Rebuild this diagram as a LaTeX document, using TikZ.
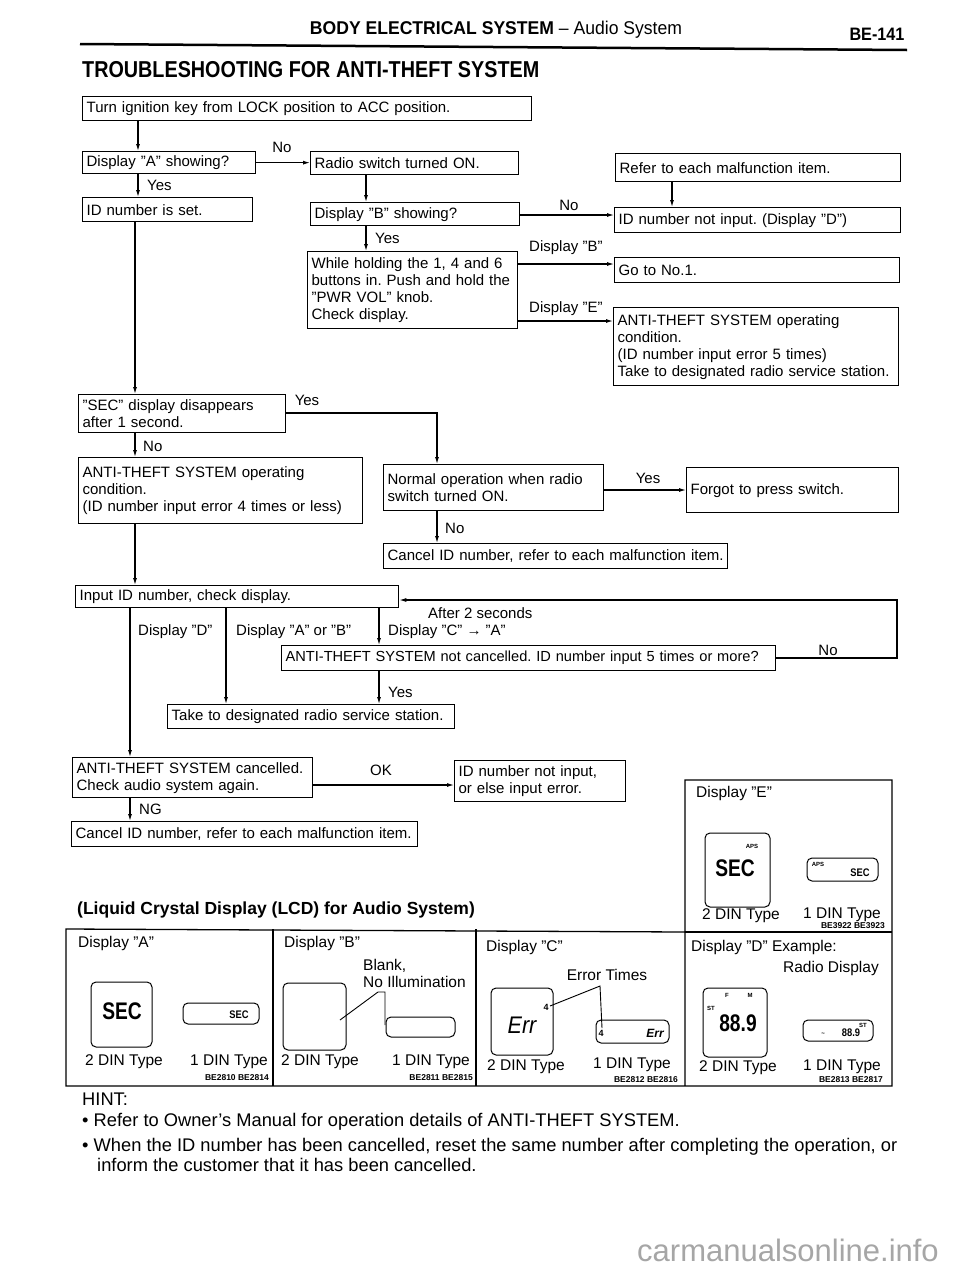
\documentclass[tikz,border=0pt]{standalone}
\usepackage{fontspec}
\setmainfont{Liberation Sans}
\setsansfont{Liberation Sans}
\usetikzlibrary{arrows.meta, positioning}
\frenchspacing

\newcommand{\flowfont}{\fontsize{15}{17}\selectfont}
\newcommand{\lcdfont}{\fontsize{15.5}{17}\selectfont}
\newcommand{\codefont}{\fontsize{8.5}{9}\selectfont\bfseries}
\newcommand{\hintfont}{\fontsize{18.3}{20}\selectfont}

\tikzset{
  flowbox/.style={draw, line width=1.3pt, anchor=north west, inner xsep=4pt, inner ysep=1pt, align=left, font=\flowfont},
  flowarrow/.style={line width=1.1pt, -{Latex[length=7pt, width=4pt]}},
  flowlabel/.style={font=\flowfont, inner sep=1pt},
  cellline/.style={line width=1.3pt},
  lcdframe/.style={line width=1pt, rounded corners=5pt},
  leader/.style={line width=0.9pt},
  lcdtext/.style={font=\lcdfont, inner sep=1pt},
  codetext/.style={font=\codefont, inner sep=0pt, anchor=east},
  segbig/.style={font=\fontsize{24}{24}\selectfont\bfseries, inner sep=0pt, xscale=0.8},
  segsmall/.style={font=\fontsize{11}{11}\selectfont\bfseries, inner sep=0pt, xscale=0.85},
  segerr/.style={font=\fontsize{24}{24}\selectfont\itshape, inner sep=0pt, xscale=0.9},
  segerrsmall/.style={font=\fontsize{12}{12}\selectfont\itshape\bfseries, inner sep=0pt},
  segnum/.style={font=\fontsize{9}{9}\selectfont\bfseries, inner sep=0pt},
  segtiny/.style={font=\fontsize{6}{6}\selectfont\bfseries, inner sep=0pt},
  hinttext/.style={font=\hintfont, inner sep=0pt, anchor=west}
}

\begin{document}
\begin{tikzpicture}[x=1pt, y=-1pt]
\fill[white] (0,0) rectangle (960,1280);
\useasboundingbox (0,0) rectangle (960,1280);

% page head
\node[font=\fontsize{18.5}{18.5}\selectfont, xscale=0.95, inner sep=0pt] (head) at (496,30) {\textbf{BODY ELECTRICAL SYSTEM} -- Audio System};
\node[font=\fontsize{18}{18}\selectfont\bfseries, xscale=0.9, inner sep=0pt] (pageno) at (877,34) {BE-141};
\draw[line width=2.5pt] (80,44) -- (907,50);
\node[font=\fontsize{23}{23}\selectfont\bfseries, xscale=0.86, anchor=west, inner sep=0pt] (title) at (82,70) {TROUBLESHOOTING FOR ANTI-THEFT SYSTEM};

% flow boxes
\node[flowbox, text width=441pt, minimum height=24pt] (turn) at (82,96) {Turn ignition key from LOCK position to ACC position.};
\node[flowbox, text width=165pt, minimum height=22pt] (dispA) at (82,151) {Display ”A” showing?};
\node[flowbox, text width=200pt, minimum height=23pt] (radio) at (310,151) {Radio switch turned ON.};
\node[flowbox, text width=162pt, minimum height=24pt] (idset) at (82,197) {ID number is set.};
\node[flowbox, text width=201pt, minimum height=23pt] (dispB) at (310,202) {Display ”B” showing?};
\node[flowbox, text width=202pt, minimum height=77pt] (holding) at (307,251) {While holding the 1, 4 and 6\\buttons in. Push and hold the\\”PWR VOL” knob.\\Check display.};
\node[flowbox, text width=277pt, minimum height=28pt] (refer) at (615,153) {Refer to each malfunction item.};
\node[flowbox, text width=278pt, minimum height=25pt] (idnot) at (614,207) {ID number not input. (Display ”D”)};
\node[flowbox, text width=277pt, minimum height=25pt] (gono) at (614,257) {Go to No.1.};
\node[flowbox, text width=277pt, minimum height=78pt] (antifive) at (613,307) {ANTI-THEFT SYSTEM operating\\condition.\\(ID number input error 5 times)\\Take to designated radio service station.};
\node[flowbox, text width=199pt, minimum height=38pt] (secgone) at (78,394) {”SEC” display disappears\\after 1 second.};
\node[flowbox, text width=276pt, minimum height=66pt] (antifour) at (78,457) {ANTI-THEFT SYSTEM operating\\condition.\\(ID number input error 4 times or less)};
\node[flowbox, text width=212pt, minimum height=46pt] (normal) at (383,464) {Normal operation when radio\\switch turned ON.};
\node[flowbox, text width=204pt, minimum height=45pt] (forgot) at (686,467) {Forgot to press switch.};
\node[flowbox, text width=336pt, minimum height=25pt] (cancelA) at (383,543) {Cancel ID number, refer to each malfunction item.};
\node[flowbox, text width=315pt, minimum height=22pt] (input) at (75,585) {Input ID number, check display.};
\node[flowbox, text width=486pt, minimum height=25pt, font=\fontsize{14.6}{17}\selectfont] (notcanc) at (281,645) {ANTI-THEFT SYSTEM not cancelled. ID number input 5 times or more?};
\node[flowbox, text width=279pt, minimum height=24pt] (takeshop) at (167,704) {Take to designated radio service station.};
\node[flowbox, text width=232pt, minimum height=40pt] (cancelled) at (72,757) {ANTI-THEFT SYSTEM cancelled.\\Check audio system again.};
\node[flowbox, text width=163pt, minimum height=41pt] (idnotB) at (454,760) {ID number not input,\\or else input error.};
\node[flowbox, text width=338pt, minimum height=25pt] (cancelB) at (71,821) {Cancel ID number, refer to each malfunction item.};

% lanes and rows
\coordinate (laneTop) at (138,0);
\coordinate (laneMid) at (135,0);
\coordinate (laneLow) at (130,0);
\coordinate (laneRadio) at (366,0);
\coordinate (laneRefer) at (672,0);
\coordinate (laneNormal) at (437,0);
\coordinate (laneAB) at (226,0);
\coordinate (laneC) at (379,0);
\coordinate (laneBack) at (897,0);
\coordinate (rowNoB) at (0,215);
\coordinate (rowDispB) at (0,264);
\coordinate (rowDispE) at (0,321);
\coordinate (rowSec) at (0,413);
\coordinate (rowForgot) at (0,490);
\coordinate (rowBack) at (0,600);
\coordinate (rowLoop) at (0,658);
\coordinate (rowOK) at (0,785);

% connectors
\draw[flowarrow] (turn.south -| laneTop) -- (dispA.north -| laneTop);
\draw[flowarrow] (dispA.south -| laneTop) -- (idset.north -| laneTop);
\draw[flowarrow] (idset.south -| laneMid) -- (secgone.north -| laneMid);
\draw[flowarrow] (secgone.south -| laneMid) -- (antifour.north -| laneMid);
\draw[flowarrow] (antifour.south -| laneMid) -- (input.north -| laneMid);
\draw[flowarrow] (input.south -| laneLow) -- (cancelled.north -| laneLow);
\draw[flowarrow] (cancelled.south -| laneLow) -- (cancelB.north -| laneLow);
\draw[flowarrow] (dispA.east) -- (dispA.east -| radio.west);
\draw[flowarrow] (radio.south -| laneRadio) -- (dispB.north -| laneRadio);
\draw[flowarrow] (dispB.south -| laneRadio) -- (holding.north -| laneRadio);
\draw[flowarrow] (dispB.east |- rowNoB) -- (idnot.west |- rowNoB);
\draw[flowarrow] (refer.south -| laneRefer) -- (idnot.north -| laneRefer);
\draw[flowarrow] (holding.east |- rowDispB) -- (gono.west |- rowDispB);
\draw[flowarrow] (holding.east |- rowDispE) -- (antifive.west |- rowDispE);
\draw[flowarrow] (secgone.east |- rowSec) -| (normal.north -| laneNormal);
\draw[flowarrow] (normal.east |- rowForgot) -- (forgot.west |- rowForgot);
\draw[flowarrow] (normal.south -| laneNormal) -- (cancelA.north -| laneNormal);
\draw[flowarrow] (input.south -| laneAB) -- (takeshop.north -| laneAB);
\draw[flowarrow] (input.south -| laneC) -- (notcanc.north -| laneC);
\draw[flowarrow] (notcanc.south -| laneC) -- (takeshop.north -| laneC);
\draw[flowarrow] (notcanc.east |- rowLoop) -| (laneBack |- rowBack) -- (input.east |- rowBack);
\draw[flowarrow] (cancelled.east |- rowOK) -- (idnotB.west |- rowOK);

% branch labels
\node[flowlabel] (noA) at (282,147) {No};
\node[flowlabel, anchor=west] (yesA) at (146,185) {Yes};
\node[flowlabel, anchor=west] (yesB) at (374,238) {Yes};
\node[flowlabel] (noB) at (569,205) {No};
\node[flowlabel, anchor=west] (showB) at (528,248) {Display ”B”};
\node[flowlabel, anchor=west] (showE) at (528,309) {Display ”E”};
\node[flowlabel] (yesSec) at (307,400) {Yes};
\node[flowlabel, anchor=west] (noSec) at (142,446) {No};
\node[flowlabel] (yesNormal) at (648,478) {Yes};
\node[flowlabel, anchor=west] (noNormal) at (444,528) {No};
\node[flowlabel, anchor=west] (after) at (427,613) {After 2 seconds};
\node[flowlabel, anchor=west] (showD) at (137,632) {Display ”D”};
\node[flowlabel, anchor=west] (showAB) at (235,632) {Display ”A” or ”B”};
\node[flowlabel, anchor=west] (showC) at (387,632) {Display ”C” → ”A”};
\node[flowlabel] (noLoop) at (828,650) {No};
\node[flowlabel, anchor=west] (yesLoop) at (387,692) {Yes};
\node[flowlabel] (okCheck) at (381,770) {OK};
\node[flowlabel, anchor=west] (ngCheck) at (138,809) {NG};

% LCD table
\node[font=\fontsize{17.5}{17.5}\selectfont\bfseries, anchor=west, inner sep=0pt] (lcdtitle) at (77,910) {(Liquid Crystal Display (LCD) for Audio System)};
\draw[cellline] (685,932) -- (66,929) -- (66,1086) -- (892,1086) -- (892,780) -- (685,780) -- (685,1086);
\draw[cellline] (685,932) -- (892,932);
\draw[cellline] (273,929) -- (273,1086) (476,929) -- (476,1086);

% display A
\node[lcdtext, anchor=west] (lcdA) at (77,943) {Display ”A”};
\draw[lcdframe] (91,982) rectangle (152,1047);
\node[segbig] (secA) at (122,1011) {SEC};
\draw[lcdframe] (183,1003) rectangle (259,1024);
\node[segsmall] (secAs) at (239,1015) {SEC};
\node[lcdtext] (twoA) at (124,1062) {2 DIN Type};
\node[lcdtext] (oneA) at (229,1062) {1 DIN Type};
\node[codetext] (codeA) at (269,1078) {BE2810 BE2814};

% display B
\node[lcdtext, anchor=west] (lcdB) at (283,943) {Display ”B”};
\draw[lcdframe] (283,983) rectangle (346,1050);
\draw[lcdframe] (386,1017) rectangle (455,1037);
\node[lcdtext, anchor=west] (blankB) at (362,966) {Blank,};
\node[lcdtext, anchor=west] (illumB) at (362,982) {No Illumination};
\draw[leader] (340,1020) -- (378,992) -- (385,992) -- (385,1025);
\node[lcdtext] (twoB) at (320,1062) {2 DIN Type};
\node[lcdtext] (oneB) at (431,1062) {1 DIN Type};
\node[codetext] (codeB) at (473,1078) {BE2811 BE2815};

% display C
\node[lcdtext, anchor=west] (lcdC) at (485,947) {Display ”C”};
\node[lcdtext] (errTimes) at (607,975) {Error Times};
\draw[lcdframe] (491,988) rectangle (553,1055);
\node[segerr] (errC) at (522,1025) {Err};
\node[segnum] (fourC) at (546,1007) {4};
\draw[lcdframe] (596,1020) rectangle (669,1043);
\node[segnum] (fourCs) at (601,1033) {4};
\node[segerrsmall] (errCs) at (655,1033) {Err};
\draw[leader] (550,1006) -- (600,986) -- (602,1028);
\node[lcdtext] (twoC) at (526,1067) {2 DIN Type};
\node[lcdtext] (oneC) at (632,1065) {1 DIN Type};
\node[codetext] (codeC) at (678,1080) {BE2812 BE2816};

% display D
\node[lcdtext, anchor=west] (lcdD) at (690,947) {Display ”D” Example:};
\node[lcdtext, anchor=east] (radioD) at (880,968) {Radio Display};
\draw[lcdframe] (703,988) rectangle (767,1057);
\node[segtiny] (fD) at (727,995) {F};
\node[segtiny] (mD) at (750,995) {M};
\node[segtiny] (stD) at (711,1008) {ST};
\node[segbig] (freqD) at (738,1023) {88.9};
\draw[lcdframe] (803,1020) rectangle (873,1041);
\node[segtiny] (waveD) at (823,1034) {\textasciitilde};
\node[segsmall] (freqDs) at (851,1033) {88.9};
\node[segtiny] (stDs) at (863,1025) {ST};
\node[lcdtext] (twoD) at (738,1068) {2 DIN Type};
\node[lcdtext] (oneD) at (842,1067) {1 DIN Type};
\node[codetext] (codeD) at (883,1080) {BE2813 BE2817};

% display E
\node[lcdtext, anchor=west] (lcdE) at (695,793) {Display ”E”};
\draw[lcdframe] (705,833) rectangle (770,907);
\node[segtiny] (apsE) at (752,846) {APS};
\node[segbig] (secE) at (735,868) {SEC};
\draw[lcdframe] (807,858) rectangle (878,881);
\node[segtiny] (apsEs) at (818,864) {APS};
\node[segsmall] (secEs) at (860,873) {SEC};
\node[lcdtext] (twoE) at (741,916) {2 DIN Type};
\node[lcdtext] (oneE) at (842,915) {1 DIN Type};
\node[codetext] (codeE) at (885,926) {BE3922 BE3923};

% hints
\node[hinttext] (hint) at (82,1099) {HINT:};
\node[hinttext] (hintOne) at (82,1122) {• Refer to Owner’s Manual for operation details of ANTI-THEFT SYSTEM.};
\node[hinttext] (hintTwo) at (82,1147) {• When the ID number has been cancelled, reset the same number after completing the operation, or};
\node[hinttext] (hintThree) at (97,1165) {inform the customer that it has been cancelled.};

\node[font=\fontsize{31}{31}\selectfont, text=black!35, inner sep=0pt] (mark) at (788,1250) {carmanualsonline.info};

\end{tikzpicture}
\end{document}
